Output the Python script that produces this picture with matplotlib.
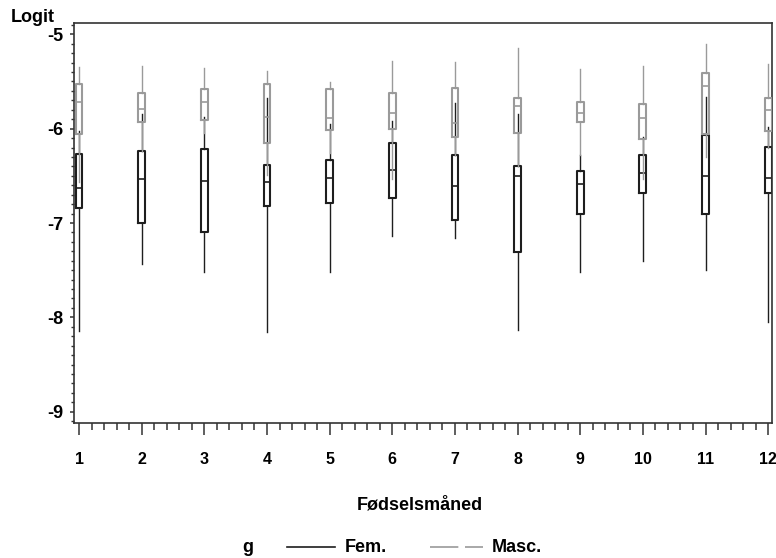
import matplotlib
matplotlib.use('Agg')
import matplotlib.pyplot as plt
from matplotlib.lines import Line2D
from matplotlib.ticker import MultipleLocator

plt.rcParams['font.family'] = ['Liberation Sans', 'DejaVu Sans']
plt.rcParams['font.weight'] = 'bold'
plt.rcParams['axes.unicode_minus'] = False

months = list(range(1, 13))

# Fem. (black)
fem_whishi = [-6.03, -5.84, -5.88, -5.68, -5.95, -5.92, -5.73, -5.84, -6.28, -6.09, -5.66, -5.98]
fem_q3 = [-6.27, -6.24, -6.22, -6.38, -6.33, -6.15, -6.28, -6.40, -6.45, -6.28, -6.07, -6.19]
fem_med = [-6.63, -6.53, -6.56, -6.57, -6.52, -6.44, -6.61, -6.50, -6.59, -6.47, -6.50, -6.52]
fem_q1 = [-6.84, -7.00, -7.10, -6.82, -6.79, -6.73, -6.97, -7.31, -6.90, -6.68, -6.90, -6.68]
fem_whislo = [-8.14, -7.43, -7.52, -8.16, -7.52, -7.14, -7.16, -8.13, -7.52, -7.40, -7.50, -8.05]

# Masc. (grey)
masc_whishi = [-5.35, -5.34, -5.36, -5.39, -5.51, -5.28, -5.29, -5.15, -5.37, -5.34, -5.10, -5.31]
masc_q3 = [-5.53, -5.62, -5.58, -5.53, -5.58, -5.62, -5.57, -5.68, -5.72, -5.74, -5.41, -5.67]
masc_med = [-5.72, -5.79, -5.72, -5.88, -5.89, -5.83, -5.94, -5.76, -5.83, -5.89, -5.55, -5.80]
masc_q1 = [-6.06, -5.93, -5.91, -6.15, -6.01, -6.00, -6.09, -6.05, -5.93, -6.11, -6.06, -6.03]
masc_whislo = [-6.57, -6.24, -6.05, -6.49, -6.26, -6.53, -6.28, -6.40, -6.28, -6.53, -6.30, -6.20]

black = '#1e1e1e'
grey = '#9a9a9a'


def make_stats(lo, q1, med, q3, hi):
    return [dict(whislo=a, q1=b, med=c, q3=d, whishi=e, fliers=[])
            for a, b, c, d, e in zip(lo, q1, med, q3, hi)]


def draw(ax, stats, color, z):
    line = dict(color=color, linewidth=1.0)
    box = dict(color=color, linewidth=1.5)
    ax.bxp(stats, positions=months, widths=0.11, showcaps=False,
           showfliers=False, boxprops=box, whiskerprops=line,
           medianprops=dict(color=color, linewidth=1.2), zorder=z,
           manage_ticks=False)


fig = plt.figure(figsize=(7.76, 5.58), dpi=100)
ax = fig.add_axes([0.0954, 0.2419, 0.8994, 0.7169])

draw(ax, make_stats(fem_whislo, fem_q1, fem_med, fem_q3, fem_whishi), black, 2)
draw(ax, make_stats(masc_whislo, masc_q1, masc_med, masc_q3, masc_whishi), grey, 3)

ax.set_xlim(0.92, 12.06)
ax.set_ylim(-9.12, -4.88)
ax.set_xticks(months)
ax.set_xticklabels([str(m) for m in months])
ax.set_yticks([-9, -8, -7, -6, -5])
ax.xaxis.set_minor_locator(MultipleLocator(0.2))
ax.yaxis.set_minor_locator(MultipleLocator(0.1))

for s in ax.spines.values():
    s.set_color('#333333')
    s.set_linewidth(1.2)

ax.tick_params(axis='x', which='major', direction='out', length=8.6, width=1.1,
               pad=12, labelsize=11.5, color='#333333')
ax.tick_params(axis='x', which='minor', direction='out', length=5, width=1.1,
               color='#333333')
ax.tick_params(axis='y', which='major', direction='out', length=3, width=1.1,
               pad=5, labelsize=13, color='#333333')
ax.tick_params(axis='y', which='minor', direction='out', length=2, width=1.0,
               color='#333333')
for lab in ax.get_xticklabels() + ax.get_yticklabels():
    lab.set_fontweight('bold')

fig.text(0.014, 1 - 17 / 558, 'Logit', fontsize=13, fontweight='bold',
         ha='left', va='center')
fig.text(420 / 776, 1 - 505 / 558, 'Fødselsmåned', fontsize=13,
         fontweight='bold', ha='center', va='center')

# legend
ly = 1 - 547 / 558
fig.text(248 / 776, ly, 'g', fontsize=13, fontweight='bold', ha='center', va='center')
fig.add_artist(Line2D([287 / 776, 335 / 776], [ly, ly], color=black, linewidth=1.2,
                      transform=fig.transFigure))
fig.text(345 / 776, ly, 'Fem.', fontsize=13, fontweight='bold', ha='left', va='center')
fig.add_artist(Line2D([430 / 776, 483 / 776], [ly, ly], color=grey, linewidth=1.2,
                      dashes=(17, 4), transform=fig.transFigure))
fig.text(492 / 776, ly, 'Masc.', fontsize=13, fontweight='bold', ha='left', va='center')

fig.savefig('out.png', dpi=100)
